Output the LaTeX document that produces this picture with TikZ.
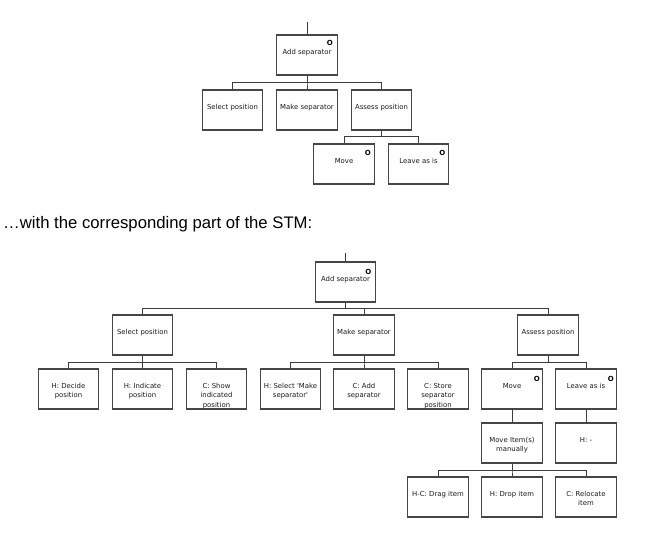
\documentclass[tikz,border=0pt]{standalone}
\usepackage{fontspec}
\setmainfont{Liberation Sans}
\newfontfamily\boxfont{DejaVu Sans}
\definecolor{boxgray}{RGB}{70,70,70}
\definecolor{linegray}{RGB}{60,60,60}
\definecolor{txt}{RGB}{25,25,35}
\newcommand\bt[1]{\parbox[c][40pt][t]{60pt}{\centering\boxfont\fontsize{6.9}{9.3}\selectfont\vspace*{13pt}\strut #1}}
\tikzset{
  stmbox/.style={draw=boxgray, line width=1.1pt, inner sep=0pt, minimum width=60.5pt, minimum height=40pt, text=txt},
  conn/.style={draw=linegray, line width=1pt},
  omark/.style={font=\boxfont\fontsize{7}{7}\selectfont\bfseries, inner sep=0pt, text=black},
}
\begin{document}
\begin{tikzpicture}[x=1pt,y=-1pt]
\useasboundingbox (0,0) rectangle (661,535);
% ---------- top diagram ----------
\node[stmbox] (A) at (307,55) {\bt{Add separator}};
\node[stmbox] (SP) at (232.5,110) {\bt{Select position}};
\node[stmbox] (MS) at (307,110) {\bt{Make separator}};
\node[stmbox] (AP) at (381.5,110) {\bt{Assess position}};
\node[stmbox] (MV) at (344,164) {\bt{Move}};
\node[stmbox] (LV) at (418.5,164) {\bt{Leave as is}};
\node[omark] (oA) at ([shift={(-8pt,-9pt)}]A.north east) {O};
\node[omark] (oMV) at ([shift={(-7pt,-10pt)}]MV.north east) {O};
\node[omark] (oLV) at ([shift={(-7pt,-10pt)}]LV.north east) {O};
\coordinate (topA) at (307,22);
\draw[conn] (topA) -- (A.north);
\foreach \c in {SP,MS,AP} \draw[conn] (A.south) |- ([yshift=7pt]\c.north) -- (\c.north);
\foreach \c in {MV,LV} \draw[conn] (AP.south) |- ([yshift=7pt]\c.north) -- (\c.north);
% ---------- heading ----------
\node[anchor=base west, inner sep=0pt, font=\fontsize{16.7}{18}\selectfont] (head) at (3,228) {…with the corresponding part of the STM:};
% ---------- bottom diagram ----------
\node[stmbox] (B) at (345.5,282) {\bt{Add separator}};
\node[omark] (oB) at ([shift={(-8pt,-10pt)}]B.north east) {O};
\coordinate (topB) at (345.5,253);
\draw[conn] (topB) -- (B.north);
\node[stmbox] (SP2) at (142.5,335) {\bt{Select position}};
\node[stmbox] (MS2) at (364,335) {\bt{Make separator}};
\node[stmbox] (AP2) at (548,335) {\bt{Assess position}};
\foreach \c in {SP2,MS2,AP2} \draw[conn] (B.south) |- ([yshift=6pt]\c.north) -- (\c.north);
\node[stmbox] (D1) at (68.5,389) {\bt{H: Decide\\position}};
\node[stmbox] (D2) at (142.5,389) {\bt{H: Indicate\\position}};
\node[stmbox] (D3) at (216.5,389) {\bt{C: Show\\indicated\\position}};
\node[stmbox] (M1) at (290.5,389) {\bt{H: Select 'Make\\separator'}};
\node[stmbox] (M2) at (364,389) {\bt{C: Add\\separator}};
\node[stmbox] (M3) at (438,389) {\bt{C: Store\\separator\\position}};
\node[stmbox] (MV2) at (512,389) {\bt{Move}};
\node[stmbox] (LV2) at (586,389) {\bt{Leave as is}};
\node[omark] (oMV2) at ([shift={(-6pt,-10pt)}]MV2.north east) {O};
\node[omark] (oLV2) at ([shift={(-6pt,-10pt)}]LV2.north east) {O};
\foreach \c in {D1,D2,D3} \draw[conn] (SP2.south) |- ([yshift=6pt]\c.north) -- (\c.north);
\foreach \c in {M1,M2,M3} \draw[conn] (MS2.south) |- ([yshift=6pt]\c.north) -- (\c.north);
\foreach \c in {MV2,LV2} \draw[conn] (AP2.south) |- ([yshift=6pt]\c.north) -- (\c.north);
\node[stmbox] (MI) at (512,443) {\bt{Move Item(s)\\manually}};
\node[stmbox] (HN) at (586,443) {\bt{H: -}};
\draw[conn] (MV2.south) -- (MI.north);
\draw[conn] (LV2.south) -- (HN.north);
\node[stmbox] (DI) at (438,497) {\bt{H-C: Drag item}};
\node[stmbox] (DR) at (512,497) {\bt{H: Drop item}};
\node[stmbox] (RE) at (586,497) {\bt{C: Relocate\\item}};
\foreach \c in {DI,DR,RE} \draw[conn] (MI.south) |- ([yshift=6pt]\c.north) -- (\c.north);
\end{tikzpicture}
\end{document}
